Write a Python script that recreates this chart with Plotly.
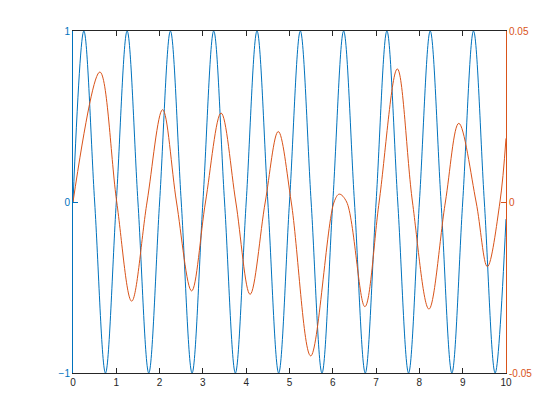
import plotly.graph_objects as go

# Left-axis series (blue), control points read at quarter periods
blue_x = [0, 0.25, 0.5, 0.75, 1, 1.25, 1.5, 1.75, 2, 2.25, 2.5, 2.75, 3, 3.25, 3.5, 3.75,
          4, 4.25, 4.5, 4.75, 5, 5.25, 5.5, 5.75, 6, 6.25, 6.5, 6.75, 7, 7.25, 7.5, 7.75,
          8, 8.25, 8.5, 8.75, 9, 9.25, 9.5, 9.75, 10]
blue_y = [0, 1, 0, -1, 0, 1, 0, -1, 0, 1, 0, -1, 0, 1, 0, -1,
          0, 1, 0, -1, 0, 1, 0, -1, 0, 1, 0, -1, 0, 1, 0, -1,
          0, 1, 0, -1, 0, 1, 0, -1, -0.1]

# Right-axis series (orange), extrema and zero crossings
red_x = [0, 0.62, 1.01, 1.355, 1.71, 2.07, 2.39, 2.74, 3.06, 3.42, 3.76, 4.09, 4.44,
         4.74, 5.04, 5.49, 6.03, 6.15, 6.32, 6.74, 7.07, 7.49, 7.84, 8.22, 8.6, 8.91,
         9.31, 9.57, 9.86, 10]
red_y = [0, 0.038, 0, -0.029, 0, 0.027, 0, -0.026, 0, 0.026, 0, -0.027, 0,
         0.0206, 0, -0.045, 0, 0.0023, 0, -0.0306, 0, 0.0389, 0, -0.0313, 0, 0.023,
         0, -0.0189, 0, 0.0186]

x_ticks = [0, 1, 2, 3, 4, 5, 6, 7, 8, 9, 10]
left_ticks = [-1, 0, 1]
right_ticks = [-0.05, 0, 0.05]
right_tick_labels = ["-0.05", "0", "0.05"]

BLUE = "#0072BD"
ORANGE = "#D95319"
DARK = "#262626"

fig = go.Figure()
fig.add_trace(go.Scatter(x=blue_x, y=blue_y, mode="lines",
                         line=dict(color=BLUE, width=1, shape="spline", smoothing=1.0),
                         yaxis="y", showlegend=False, hoverinfo="skip"))
fig.add_trace(go.Scatter(x=red_x, y=red_y, mode="lines",
                         line=dict(color=ORANGE, width=1, shape="spline", smoothing=1.0),
                         yaxis="y2", showlegend=False, hoverinfo="skip"))

fig.update_layout(
    width=560, height=420,
    margin=dict(l=65, r=62, t=23, b=55, autoexpand=False),
    paper_bgcolor="white", plot_bgcolor="white",
    font=dict(family="Liberation Sans, Arial, sans-serif", size=10, color=DARK),
    xaxis=dict(range=[0, 10], tickvals=x_ticks, ticks="inside", ticklen=5,
               tickcolor=DARK, showline=True, linecolor=DARK, linewidth=1,
               mirror="ticks", showgrid=False, zeroline=False,
               tickfont=dict(color=DARK, size=10)),
    yaxis=dict(range=[-1, 1], tickvals=left_ticks, ticks="inside", ticklen=5,
               tickcolor=BLUE, showline=True, linecolor=BLUE, linewidth=1,
               showgrid=False, zeroline=False, tickfont=dict(color=BLUE, size=10)),
    yaxis2=dict(range=[-0.05, 0.05], tickvals=right_ticks, ticktext=right_tick_labels,
                overlaying="y", side="right", ticks="inside", ticklen=5,
                tickcolor=ORANGE, showline=True, linecolor=ORANGE, linewidth=1,
                showgrid=False, zeroline=False, tickfont=dict(color=ORANGE, size=10)),
)

fig.write_html("out.html")
